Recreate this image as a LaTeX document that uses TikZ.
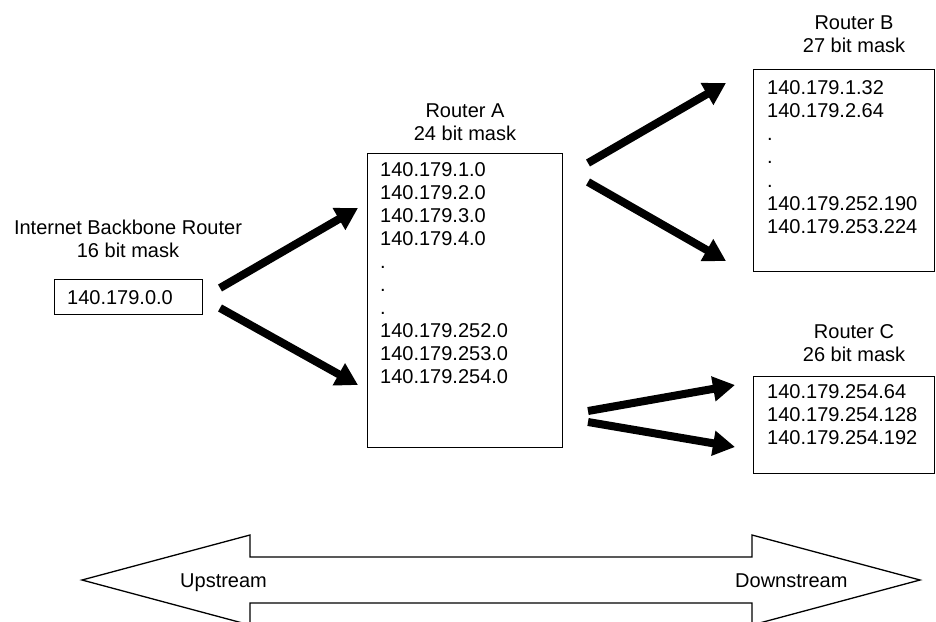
\documentclass[tikz,border=0pt]{standalone}
\usepackage{fontspec}
\setmainfont{Liberation Sans}
\usetikzlibrary{arrows.meta}
\begin{document}
\begin{tikzpicture}[x=1pt,y=-1pt,
  font=\fontsize{20}{23}\selectfont,
  box/.style={draw, line width=1.3pt, inner sep=0pt, anchor=north west},
  lbl/.style={anchor=base, inner sep=0pt},
  entry/.style={anchor=base west, inner sep=0pt},
  flow/.style={line width=8pt, -{Triangle[length=22pt,width=24pt]}},
  band/.style={draw, line width=1.3pt, line join=miter}]
\useasboundingbox (0,0) rectangle (936,621);
\clip (0,0) rectangle (936,621);

% Internet backbone router
\node[lbl] (bbt1) at (128,234) {Internet Backbone Router};
\node[lbl] (bbt2) at (128,257) {16 bit mask};
\node[box, minimum width=148pt, minimum height=35pt] (bbbox) at (54,279) {};
\node[entry] (bb1) at (67,304) {140.179.0.0};

% Router A
\node[lbl] (rat1) at (465,117) {Router A};
\node[lbl] (rat2) at (465,140) {24 bit mask};
\node[box, minimum width=195pt, minimum height=294pt] (rabox) at (367,153) {};
\foreach \t [count=\i] in {140.179.1.0,140.179.2.0,140.179.3.0,140.179.4.0,.,.,.,140.179.252.0,140.179.253.0,140.179.254.0}
  \node[entry] (ra\i) at (380,{176+(\i-1)*23}) {\t};

% Router B
\node[lbl] (rbt1) at (854,29) {Router B};
\node[lbl] (rbt2) at (854,52) {27 bit mask};
\node[box, minimum width=181pt, minimum height=202pt] (rbbox) at (753,69) {};
\foreach \t [count=\i] in {140.179.1.32,140.179.2.64,.,.,.,140.179.252.190,140.179.253.224}
  \node[entry] (rb\i) at (767,{94+(\i-1)*23.3}) {\t};

% Router C
\node[lbl] (rct1) at (854,338) {Router C};
\node[lbl] (rct2) at (854,361) {26 bit mask};
\node[box, minimum width=181pt, minimum height=97pt] (rcbox) at (753,376) {};
\foreach \t [count=\i] in {140.179.254.64,140.179.254.128,140.179.254.192}
  \node[entry] (rc\i) at (767,{398+(\i-1)*23}) {\t};

% Route advertisement arrows
\coordinate (bbAs) at (220,288); \coordinate (bbAe) at (358,208);
\coordinate (bbBs) at (220,308); \coordinate (bbBe) at (358,385);
\coordinate (abAs) at (588,163); \coordinate (abAe) at (726,83);
\coordinate (abBs) at (588,182); \coordinate (abBe) at (726,261);
\coordinate (acAs) at (588,411); \coordinate (acAe) at (735,385);
\coordinate (acBs) at (588,422); \coordinate (acBe) at (735,447);
\draw[flow] (bbAs) -- (bbAe);
\draw[flow] (bbBs) -- (bbBe);
\draw[flow] (abAs) -- (abAe);
\draw[flow] (abBs) -- (abBe);
\draw[flow] (acAs) -- (acAe);
\draw[flow] (acBs) -- (acBe);

% Upstream / downstream double arrow
\draw[band] (82,580) -- (250,535) -- (250,557) -- (752,557) -- (752,535)
  -- (920,580) -- (752,625) -- (752,603) -- (250,603) -- (250,625) -- cycle;
\node[entry] (up) at (180,587) {Upstream};
\node[entry] (down) at (735,587) {Downstream};
\end{tikzpicture}
\end{document}
